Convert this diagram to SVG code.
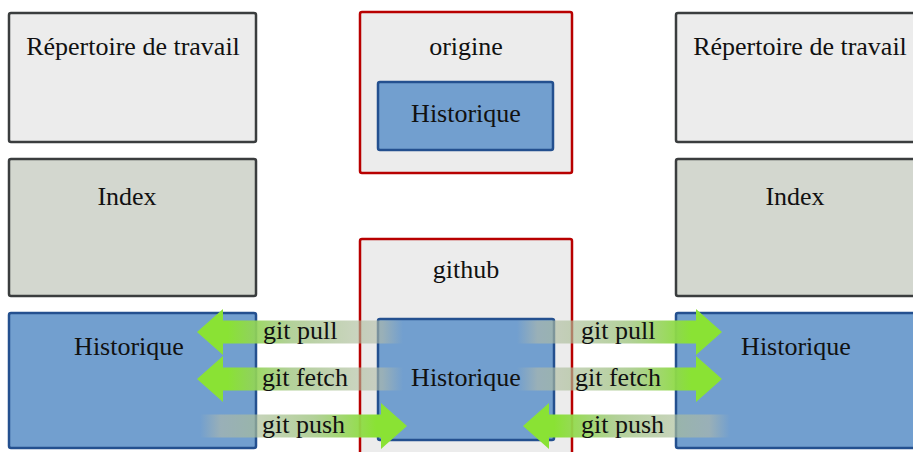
<svg xmlns="http://www.w3.org/2000/svg" width="913" height="452" viewBox="0 0 913 452">
  <style>
    text { font-family: "Liberation Serif", "Times New Roman", serif; font-size: 26px; fill: #111; }
    .c { text-anchor: middle; }
    .wd { fill: #ececec; stroke: #3a3d3e; stroke-width: 2.5; }
    .idx { fill: #d3d7cf; stroke: #3a3d3e; stroke-width: 2.5; }
    .hist { fill: #729fcf; stroke: #24508f; stroke-width: 2.5; }
    .remote { fill: #ececec; stroke: #b80000; stroke-width: 2.5; }
    .al { fill: url(#gL); }
    .ar { fill: url(#gR); }
  </style>
  <defs>
    <linearGradient id="gL" x1="0" y1="0" x2="1" y2="0">
      <stop offset="0" stop-color="#8ae234" stop-opacity="1"/>
      <stop offset="0.15" stop-color="#8ae234" stop-opacity="1"/>
      <stop offset="0.45" stop-color="#9fc57f" stop-opacity="0.8"/>
      <stop offset="0.9" stop-color="#b3bba8" stop-opacity="0.6"/>
      <stop offset="1" stop-color="#b3bba8" stop-opacity="0"/>
    </linearGradient>
    <linearGradient id="gR" x1="1" y1="0" x2="0" y2="0">
      <stop offset="0" stop-color="#8ae234" stop-opacity="1"/>
      <stop offset="0.15" stop-color="#8ae234" stop-opacity="1"/>
      <stop offset="0.45" stop-color="#9fc57f" stop-opacity="0.8"/>
      <stop offset="0.9" stop-color="#b3bba8" stop-opacity="0.6"/>
      <stop offset="1" stop-color="#b3bba8" stop-opacity="0"/>
    </linearGradient>
  </defs>

  <g id="left-workdir">
    <rect class="wd" x="9" y="13" width="247" height="129" rx="2"/>
    <text class="c" x="133" y="55">Répertoire de travail</text>
  </g>
  <g id="left-index">
    <rect class="idx" x="9" y="159" width="247" height="137" rx="2"/>
    <text class="c" x="127" y="205">Index</text>
  </g>
  <g id="left-history">
    <rect class="hist" x="9" y="313" width="247" height="135" rx="2"/>
    <text class="c" x="129" y="355">Historique</text>
  </g>

  <g id="origin">
    <rect class="remote" x="360" y="12" width="212" height="161" rx="2"/>
    <text class="c" x="466" y="55">origine</text>
    <g id="origin-history">
      <rect class="hist" x="378" y="82" width="175" height="68" rx="2"/>
      <text class="c" x="466" y="122">Historique</text>
    </g>
  </g>

  <g id="github">
    <rect class="remote" x="360" y="239" width="212" height="240" rx="2"/>
    <text class="c" x="466" y="278">github</text>
    <g id="github-history">
      <rect class="hist" x="378" y="319" width="176" height="121" rx="2"/>
      <text class="c" x="466" y="386">Historique</text>
    </g>
  </g>

  <g id="right-workdir">
    <rect class="wd" x="676" y="13" width="247" height="129" rx="2"/>
    <text class="c" x="800" y="55">Répertoire de travail</text>
  </g>
  <g id="right-index">
    <rect class="idx" x="676" y="159" width="247" height="137" rx="2"/>
    <text class="c" x="795" y="205">Index</text>
  </g>
  <g id="right-history">
    <rect class="hist" x="676" y="313" width="247" height="135" rx="2"/>
    <text class="c" x="796" y="355">Historique</text>
  </g>

  <g id="connectors">
    <path class="al" d="M197,332 L223,309 L223,320.5 L403,320.5 L403,343.5 L223,343.5 L223,355 Z"/>
    <path class="al" d="M197,379 L223,356 L223,367.5 L403,367.5 L403,390.5 L223,390.5 L223,402 Z"/>
    <path class="ar" d="M407,426 L381,403 L381,414.5 L200,414.5 L200,437.5 L381,437.5 L381,449 Z"/>
    <path class="ar" d="M722,332 L696,309 L696,320.5 L517,320.5 L517,343.5 L696,343.5 L696,355 Z"/>
    <path class="ar" d="M722,379 L696,356 L696,367.5 L517,367.5 L517,390.5 L696,390.5 L696,402 Z"/>
    <path class="al" d="M523,426 L549,403 L549,414.5 L730,414.5 L730,437.5 L549,437.5 L549,449 Z"/>
    <text x="263" y="339">git pull</text>
    <text x="262" y="386">git fetch</text>
    <text x="262" y="433">git push</text>
    <text x="581" y="339">git pull</text>
    <text x="575" y="386">git fetch</text>
    <text x="581" y="433">git push</text>
  </g>
</svg>
